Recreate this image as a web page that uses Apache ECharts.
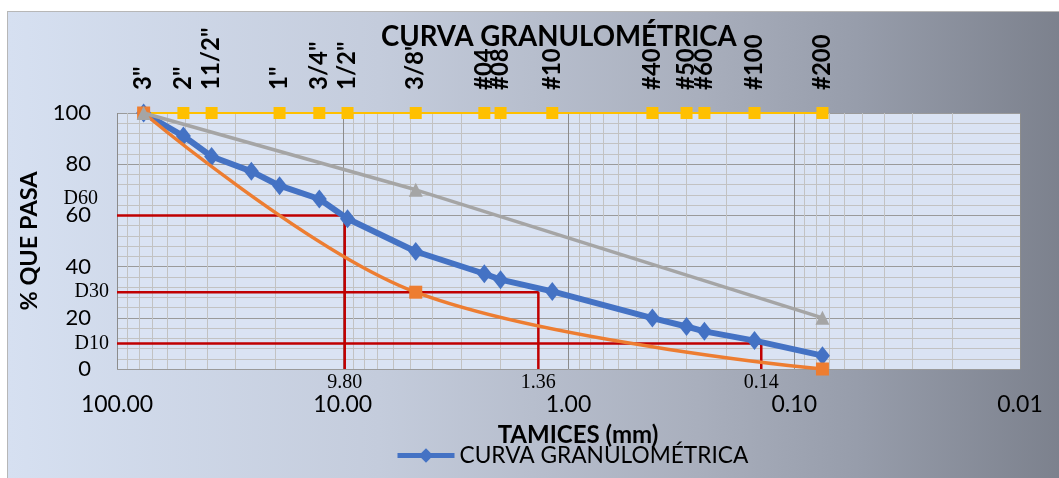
<!DOCTYPE html>
<html>
<head>
<meta charset="utf-8">
<script src="https://cdn.jsdelivr.net/npm/echarts@6/dist/echarts.min.js"></script>
<style>
  html, body { margin: 0; padding: 0; background: #fff; }
  #wrap { position: relative; width: 1059px; height: 478px; overflow: hidden; background: #fff; }
  #frame {
    position: absolute; left: 7px; top: 11px; width: 1060px; height: 475px;
    border: 1px solid #b7b7b7;
    background: linear-gradient(to right, #d6e0f1 0%, #c4ccdc 35%, #a9afbd 65%, #979dab 80%, #7b808c 100%);
  }
  #chart { position: absolute; left: 0; top: 0; width: 1059px; height: 478px; }
</style>
</head>
<body>
<div id="wrap"><div id="frame"></div><div id="chart"></div></div>
<script>
// Sieve openings shown along the top (label, opening in mm, % passing)
const sieveLabels = ['3"', '2"', '11/2"', '1"', '3/4"', '1/2"', '3/8"', '#04', '#08', '#10', '#40', '#50', '#60', '#100', '#200'];
const sieveSizes  = [76.2, 50.8, 38.1, 19.05, 12.7, 9.525, 4.75, 2.36, 2.0, 1.18, 0.425, 0.3, 0.25, 0.15, 0.075];
const sievePass   = [100, 100, 100, 100, 100, 100, 100, 100, 100, 100, 100, 100, 100, 100, 100];

// Grain-size distribution of the sample
const curveSizes = [76.2, 50.8, 38.1, 25.4, 19.05, 12.7, 9.525, 4.75, 2.36, 2.0, 1.18, 0.425, 0.3, 0.25, 0.15, 0.075];
const curvePass  = [100, 91, 83, 77.2, 71.6, 66.4, 58.7, 45.9, 37.2, 34.9, 30.3, 19.9, 16.6, 14.7, 11.1, 5.2];

// Upper and lower limit curves
const upperSizes = [76.2, 4.75, 0.075];
const upperPass  = [100, 70, 20];
const lowerSizes = [76.2, 4.75, 0.075];
const lowerPass  = [100, 30, 0];

// Characteristic diameters D60, D30, D10
const dNames  = ['D60', 'D30', 'D10'];
const dLevels = [60, 30, 10];
const dSizes  = [9.80, 1.36, 0.14];

// Decade lines come from the axis; the 2..9 subdivisions are drawn as mark lines
const decades = [0.01, 0.1, 1, 10];
const minorX = [];
decades.forEach(d => { for (let k = 2; k <= 9; k++) minorX.push(+(d * k).toPrecision(3)); });

const SANS = 'Lato, "Open Sans", sans-serif';
const SERIF = '"Liberation Serif", "DejaVu Serif", serif';

const pairs = (xs, ys) => xs.map((x, i) => [x, ys[i]]);

const dSeries = dNames.map((name, i) => ({
  type: 'line',
  name: name,
  z: 3,
  symbol: 'circle',
  symbolSize: 0.1,
  clip: false,
  silent: true,
  lineStyle: { color: '#c00000', width: 2.5 },
  itemStyle: { color: '#c00000' },
  label: { fontFamily: SERIF, fontSize: 20, color: '#000' },
  data: [
    { value: [100, dLevels[i]],
      label: { show: true, formatter: name, position: 'left', distance: 8, offset: i === 0 ? [-11, -17] : [0, 0] } },
    { value: [dSizes[i], dLevels[i]] },
    { value: [dSizes[i], 0],
      label: { show: true, formatter: dSizes[i].toFixed(2), position: 'bottom', distance: 4 } }
  ]
}));

const chart = echarts.init(document.getElementById('chart'), null, { renderer: 'canvas' });

chart.setOption({
  animation: false,
  backgroundColor: 'transparent',
  textStyle: { fontFamily: SANS },
  title: {
    text: 'CURVA GRANULOMÉTRICA',
    left: 381, top: 23, padding: 0,
    textStyle: { fontFamily: SANS, fontSize: 27.6, fontWeight: 'bold', color: '#000' }
  },
  legend: {
    data: ['CURVA GRANULOMÉTRICA'],
    left: 395, top: 444, padding: 0,
    itemWidth: 57, itemHeight: 18, itemGap: 5,
    lineStyle: { width: 5 },
    textStyle: { fontFamily: SANS, fontSize: 22.7, color: '#000' }
  },
  grid: {
    left: 117, top: 113, width: 903, height: 256,
    show: true, backgroundColor: '#dae3f3', borderWidth: 0
  },
  xAxis: {
    type: 'log', logBase: 10, min: 0.01, max: 100, inverse: true,
    axisLine: { show: false }, axisTick: { show: false },
    axisLabel: {
      formatter: v => Number(v).toFixed(2),
      fontFamily: SANS, fontSize: 23, color: '#000', margin: 24,
      showMinLabel: true, showMaxLabel: true
    },
    splitLine: { show: true, lineStyle: { color: '#8c8c8c', width: 1 } },
    name: 'TAMICES (mm)', nameLocation: 'middle', nameGap: 54,
    nameTextStyle: { fontFamily: SANS, fontSize: 24, fontWeight: 'bold', color: '#000', padding: [0, 0, 0, 19] }
  },
  yAxis: {
    type: 'value', min: 0, max: 100, interval: 20,
    axisLine: { show: false }, axisTick: { show: false },
    axisLabel: { fontFamily: SANS, fontSize: 22, color: '#000', margin: 26 },
    splitLine: { show: true, lineStyle: { color: '#9a9a9a', width: 1 } },
    minorTick: { show: false, splitNumber: 5 },
    minorSplitLine: { show: true, lineStyle: { color: '#c2c2c2', width: 1 } },
    name: '% QUE PASA', nameLocation: 'middle', nameGap: 73,
    nameTextStyle: { fontFamily: SANS, fontSize: 23.5, fontWeight: 'bold', color: '#000' }
  },
  series: [
    {
      type: 'line',
      name: 'TAMICES',
      z: 2,
      clip: false,
      symbol: 'rect', symbolSize: 12,
      lineStyle: { color: '#ffc000', width: 2 },
      itemStyle: { color: '#ffc000' },
      label: {
        show: true, formatter: '{b}', position: 'top', rotate: 90,
        align: 'left', verticalAlign: 'middle', distance: 17,
        fontFamily: SANS, fontSize: 24, fontWeight: 'bold', color: '#000'
      },
      data: sieveSizes.map((s, i) => ({ name: sieveLabels[i], value: [s, sievePass[i]] })),
      markLine: {
        silent: true, z: 1, animation: false,
        symbol: ['none', 'none'],
        label: { show: false },
        lineStyle: { color: '#c2c2c2', width: 1, type: 'solid' },
        emphasis: { disabled: true },
        data: minorX.map(v => ({ xAxis: v }))
      }
    },
    ...dSeries,
    {
      type: 'line',
      name: 'CURVA GRANULOMÉTRICA',
      z: 4,
      clip: false,
      symbol: 'diamond', symbolSize: [15, 19],
      lineStyle: { color: '#4472c4', width: 6 },
      itemStyle: { color: '#4472c4' },
      data: pairs(curveSizes, curvePass)
    },
    {
      type: 'line',
      name: 'LIMITE INFERIOR',
      z: 5,
      clip: false,
      smooth: 0.35,
      symbol: 'rect', symbolSize: 13,
      lineStyle: { color: '#ed7d31', width: 3.5 },
      itemStyle: { color: '#ed7d31' },
      data: pairs(lowerSizes, lowerPass)
    },
    {
      type: 'line',
      name: 'LIMITE SUPERIOR',
      z: 6,
      clip: false,
      symbol: 'triangle', symbolSize: 14,
      lineStyle: { color: '#a5a5a5', width: 3.5 },
      itemStyle: { color: '#a5a5a5' },
      data: pairs(upperSizes, upperPass)
    }
  ]
});
</script>
</body>
</html>
